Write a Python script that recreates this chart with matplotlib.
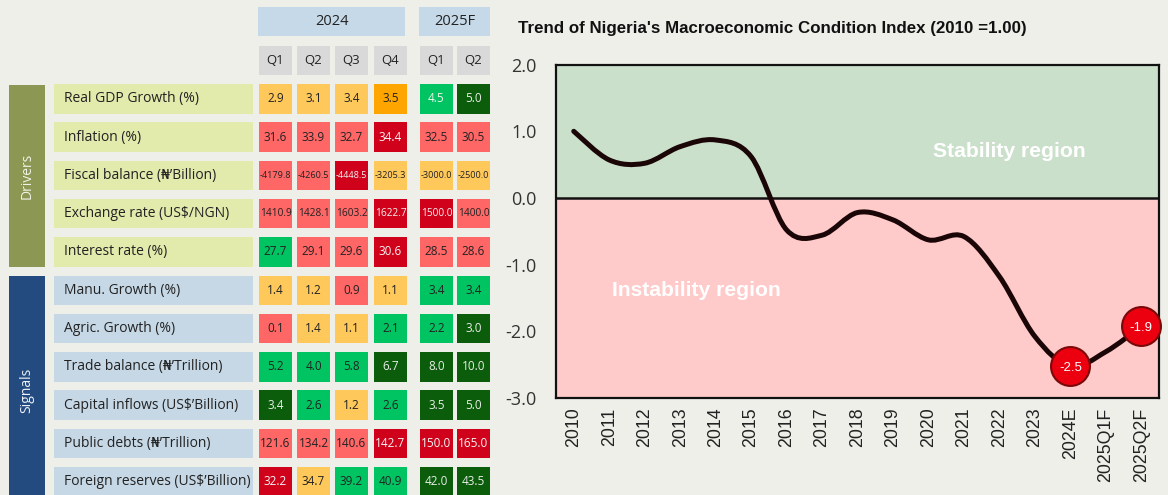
import numpy as np
import matplotlib
matplotlib.use('Agg')
import matplotlib.pyplot as plt
from matplotlib.patches import Rectangle, PathPatch
from matplotlib.path import Path

# ---------------- data ----------------
periods = ['2010', '2011', '2012', '2013', '2014', '2015', '2016', '2017', '2018',
           '2019', '2020', '2021', '2022', '2023', '2024E', '2025Q1F', '2025Q2F']
index_values = [1.00, 0.57, 0.52, 0.77, 0.87, 0.62, -0.48, -0.56, -0.22,
                -0.33, -0.63, -0.58, -1.18, -2.08, -2.53, -2.31, -1.93]
highlight_idx = [14, 16]

year_headers = ['2024', '2025F']
quarter_headers = ['Q1', 'Q2', 'Q3', 'Q4', 'Q1', 'Q2']

driver_labels = ['Real GDP Growth (%)', 'Inflation (%)', 'Fiscal balance (₦’Billion)',
                 'Exchange rate (US$/NGN)', 'Interest rate (%)']
signal_labels = ['Manu. Growth (%)', 'Agric. Growth (%)', 'Trade balance (₦’Trillion)',
                 'Capital inflows (US$’Billion)', 'Public debts (₦’Trillion)',
                 'Foreign reserves (US$’Billion)']

table_values = [
    [2.9, 3.1, 3.4, 3.5, 4.5, 5.0],
    [31.6, 33.9, 32.7, 34.4, 32.5, 30.5],
    [-4179.8, -4260.5, -4448.5, -3205.3, -3000.0, -2500.0],
    [1410.9, 1428.1, 1603.2, 1622.7, 1500.0, 1400.0],
    [27.7, 29.1, 29.6, 30.6, 28.5, 28.6],
    [1.4, 1.2, 0.9, 1.1, 3.4, 3.4],
    [0.1, 1.4, 1.1, 2.1, 2.2, 3.0],
    [5.2, 4.0, 5.8, 6.7, 8.0, 10.0],
    [3.4, 2.6, 1.2, 2.6, 3.5, 5.0],
    [121.6, 134.2, 140.6, 142.7, 150.0, 165.0],
    [32.2, 34.7, 39.2, 40.9, 42.0, 43.5],
]
# status codes: Y light amber, O orange, R light red, D dark red, G green, g green(white text), F dark green
table_status = [
    ['Y', 'Y', 'Y', 'O', 'g', 'F'],
    ['R', 'R', 'R', 'D', 'R', 'R'],
    ['R', 'R', 'D', 'Y', 'Y', 'Y'],
    ['R', 'R', 'R', 'D', 'D', 'R'],
    ['G', 'R', 'R', 'D', 'R', 'R'],
    ['Y', 'Y', 'R', 'Y', 'G', 'G'],
    ['R', 'Y', 'Y', 'G', 'G', 'F'],
    ['G', 'G', 'G', 'F', 'F', 'F'],
    ['F', 'G', 'Y', 'G', 'F', 'F'],
    ['R', 'R', 'R', 'D', 'D', 'D'],
    ['D', 'Y', 'G', 'G', 'F', 'F'],
]

# ---------------- styles ----------------
BG = '#EFEFEA'
status_fill = {'Y': '#FFC85A', 'O': '#FFA500', 'R': '#FF6666', 'D': '#D0021B',
               'G': '#00C462', 'g': '#00C462', 'F': '#0B5C0B'}
status_text = {'Y': '#222222', 'O': '#222222', 'R': '#222222', 'D': '#F4F4F4',
               'G': '#222222', 'g': '#EAF5EA', 'F': '#E8EEE8'}
SANS = ['Open Sans', 'DejaVu Sans']
ARIAL = ['Liberation Sans', 'DejaVu Sans']

W, H = 1168, 495
fig = plt.figure(figsize=(W / 100, H / 100), dpi=100, facecolor=BG)

# ---------------- table (pixel-coordinate overlay) ----------------
tab = fig.add_axes([0, 0, 1, 1])
tab.set_xlim(0, W)
tab.set_ylim(H, 0)
tab.axis('off')
tab.set_facecolor('none')

col_x = [259, 297, 335, 374, 420, 457]
cell_w = 33
row_top0, row_step, row_h = 84, 38.3, 29.5

def box(x, y, w, h, color):
    tab.add_patch(Rectangle((x, y), w, h, facecolor=color, edgecolor='none'))

# year headers
box(258, 7, 147, 29, '#C6D9E8')
tab.text(258 + 147 / 2, 21.5, year_headers[0], ha='center', va='center', fontsize=10.5,
         family=SANS, color='#222222')
box(419, 7, 71, 29, '#C6D9E8')
tab.text(419 + 71 / 2, 21.5, year_headers[1], ha='center', va='center', fontsize=10.5,
         family=SANS, color='#222222')
for j, q in enumerate(quarter_headers):
    box(col_x[j], 46, cell_w, 29, '#D9D9D9')
    tab.text(col_x[j] + cell_w / 2, 60.5, q, ha='center', va='center', fontsize=9.5,
             family=SANS, color='#222222')

# side bands
box(9, 85, 36, 182, '#8B9753')
tab.text(27, 176, 'Drivers', rotation=90, ha='center', va='center', fontsize=10,
         family=SANS, color='#F2F2E6')
box(9, 276, 36, 230, '#244B80')
tab.text(27, 390, 'Signals', rotation=90, ha='center', va='center', fontsize=10,
         family=SANS, color='#EEF2F8')

row_labels = driver_labels + signal_labels
for i, lab in enumerate(row_labels):
    y = row_top0 + i * row_step
    lab_color = '#E2EAAC' if i < len(driver_labels) else '#C6D8E6'
    box(54, y, 199, row_h, lab_color)
    tab.text(64, y + row_h / 2, lab, ha='left', va='center', fontsize=10,
             family=SANS, color='#222222')
    for j, v in enumerate(table_values[i]):
        st = table_status[i][j]
        box(col_x[j], y, cell_w, row_h, status_fill[st])
        txt = f'{v:.1f}'
        fs = 8.5
        if abs(v) >= 1000:
            fs = 6.6 if v < 0 else 7.3
        tab.text(col_x[j] + cell_w / 2, y + row_h / 2, txt, ha='center', va='center',
                 fontsize=fs, family=SANS, color=status_text[st])

# ---------------- chart ----------------
L, R_, T, B = 556, 1159, 64.7, 397.7
ax = fig.add_axes([L / W, (H - B) / H, (R_ - L) / W, (B - T) / H])
ax.set_facecolor(BG)
ax.set_xlim(-0.5, len(periods) - 0.5)
ax.set_ylim(-3.0, 2.0)
ax.axhspan(0, 2.0, color='#CBE0CB', zorder=0)
ax.axhspan(-3.0, 0, color='#FFCACA', zorder=0)
ax.axhline(0, color='#111111', lw=1.8, zorder=1)

for s in ax.spines.values():
    s.set_color('#111111')
    s.set_linewidth(1.6)

ax.set_yticks(np.arange(-3.0, 2.01, 1.0))
ax.set_yticklabels([f'{t:.1f}' for t in np.arange(-3.0, 2.01, 1.0)],
                   fontsize=13, family=SANS, color='#333333')
ax.set_xticks(range(len(periods)))
ax.set_xticklabels(periods, rotation=90, fontsize=12.8, family=ARIAL, color='#222222')
ax.tick_params(axis='y', length=0, pad=14)
ax.tick_params(axis='x', length=0, pad=7)

# smoothed line (Bezier through the data points)
xs = np.arange(len(index_values), dtype=float)
ys = np.array(index_values, dtype=float)
verts = [(xs[0], ys[0])]
codes = [Path.MOVETO]
n = len(xs)
for k in range(n - 1):
    p0 = np.array([xs[max(k - 1, 0)], ys[max(k - 1, 0)]])
    p1 = np.array([xs[k], ys[k]])
    p2 = np.array([xs[k + 1], ys[k + 1]])
    p3 = np.array([xs[min(k + 2, n - 1)], ys[min(k + 2, n - 1)]])
    c1 = p1 + (p2 - p0) / 6.0
    c2 = p2 - (p3 - p1) / 6.0
    verts += [tuple(c1), tuple(c2), tuple(p2)]
    codes += [Path.CURVE4] * 3
ax.add_patch(PathPatch(Path(verts, codes), facecolor='none', edgecolor='#1A0606',
                       lw=3.6, capstyle='round', joinstyle='round', zorder=3))

for k in highlight_idx:
    ax.plot(xs[k], ys[k], 'o', ms=28, mfc='#EC0010', mec='#7A0A0A', mew=1.5,
            zorder=4, clip_on=False)
    ax.text(xs[k], ys[k] - 0.02, f'{ys[k]:.1f}', ha='center', va='center',
            fontsize=9.5, family=ARIAL, color='white', zorder=5)

ax.text(0.751, 0.738, 'Stability region', transform=ax.transAxes, ha='center',
        va='center', fontsize=15.2, family=ARIAL, fontweight='bold', color='white')
ax.text(0.233, 0.323, 'Instability region', transform=ax.transAxes, ha='center',
        va='center', fontsize=15.2, family=ARIAL, fontweight='bold', color='white')

fig.text(518 / W, 1 - 28 / H, "Trend of Nigeria's Macroeconomic Condition Index (2010 =1.00)",
         ha='left', va='center', fontsize=12.2, family=ARIAL, fontweight='bold',
         color='#111111')

fig.savefig('out.png', dpi=100, facecolor=BG)
